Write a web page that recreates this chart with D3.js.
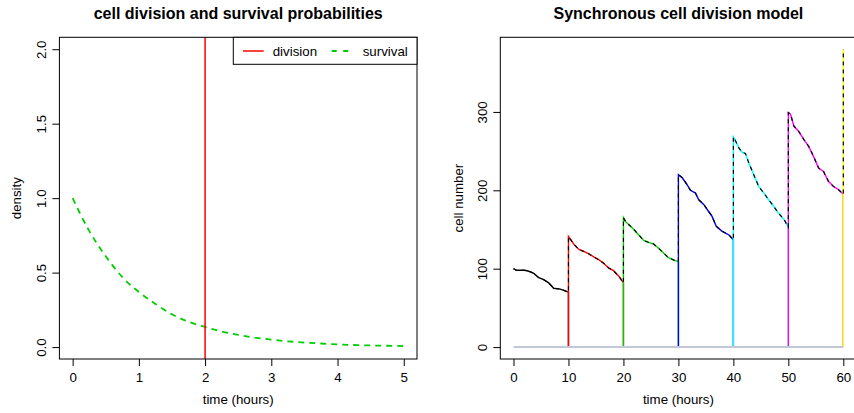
<!DOCTYPE html>
<html><head><meta charset="utf-8">
<script src="https://cdn.jsdelivr.net/npm/d3@7"></script>
<style>
html,body{margin:0;padding:0;background:#fff;}
svg text{font-family:"Liberation Sans",Arial,Helvetica,sans-serif;fill:#000;}
</style></head>
<body><svg id="c" width="854" height="413"></svg>
<script>
// ---------- data: left panel ----------
const leftTitle = "cell division and survival probabilities";
const leftXTicks = [0,1,2,3,4,5];
const leftYTicks = [0.0,0.5,1.0,1.5,2.0];
const leftYTickLabels = ["0.0","0.5","1.0","1.5","2.0"];
const divisionTime = 2;
const survivalTime = [0,0.25,0.5,0.75,1,1.25,1.5,1.75,2,2.25,2.5,2.75,3,3.25,3.5,3.75,4,4.25,4.5,4.75,5];
const survivalDensity = [1.00,0.78,0.61,0.47,0.37,0.29,0.22,0.17,0.135,0.105,0.082,0.064,0.050,0.039,0.030,0.024,0.018,0.014,0.011,0.009,0.007];
const legendLabels = ["division","survival"];

// ---------- data: right panel ----------
const rightTitle = "Synchronous cell division model";
const rightXTicks = [0,10,20,30,40,50,60];
const rightYTicks = [0,100,200,300];
const generationStart = [0,10,20,30,40,50,60];
const gen0 = [[0,100],[0.3,99],[0.5,98],[2,98],[2.6,97],[3.1,96],[3.7,94],[4.6,88.5],[5.5,86],[6.4,82],[7.3,75],[8.5,74],[9.3,72],[10,70]];
const gen1 = [[10,141],[10.4,137],[11,131],[11.9,124.5],[12.8,122],[13.7,119],[14.6,115],[15.5,111.5],[16.4,107],[17.3,101],[18.2,97.5],[19.2,90],[20,82]];
const gen2 = [[20,165],[20.4,160],[21,156],[21.9,150],[22.8,143],[23.7,136],[24.6,133.5],[25.5,131.5],[26.4,126],[27.3,120],[28.2,114],[29.2,111],[30,109]];
const gen3 = [[30,220],[30.7,216],[31.6,207],[32.2,200],[33.1,196.5],[33.7,188],[34.6,182],[35.5,173],[36.1,167],[36.9,154],[37.9,148],[39.2,143],[40,137]];
const gen4 = [[40,268],[40.4,263],[41,254],[41.6,248.5],[42.2,247],[42.8,235],[43.7,220],[44.6,205],[45.5,197],[46.4,188],[47.3,180],[48.2,171],[49.2,163],[50,153]];
const gen5 = [[50,299],[50.4,297],[51,282],[51.9,275],[52.8,265],[53.7,256],[54.6,243],[55.5,228.5],[56.4,224],[57.3,211.5],[58.2,205],[59.1,201],[60,195]];
const gen6 = [[60,380]];
const generations = [gen0,gen1,gen2,gen3,gen4,gen5,gen6];
const genColors = ["#000000","#FF0000","#00CD00","#0000FF","#00FFFF","#FF00FF","#FFFF00"];

// ---------- drawing ----------
const svg = d3.select("#c");
const FS = 13.3;

function panel(o){
  const g = svg.append("g");
  const x = d3.scaleLinear().domain(o.xd).range([o.left,o.right]);
  const y = d3.scaleLinear().domain(o.yd).range([o.bottom,o.top]);
  g.append("text").attr("x",(o.left+o.right)/2).attr("y",19).attr("text-anchor","middle")
    .style("font-weight","bold").style("font-size","16px").text(o.title);
  const xa = g.append("g").attr("transform",`translate(0,${o.bottom})`)
    .call(d3.axisBottom(x).tickValues(o.xt).tickSize(7).tickFormat(d3.format("d")));
  xa.select(".domain").remove();
  xa.selectAll("line").attr("stroke","#000");
  xa.selectAll("text").attr("y",22.7).attr("dy",null).style("font-size",FS+"px").attr("fill","#000");
  const ya = g.append("g").attr("transform",`translate(${o.left},0)`)
    .call(d3.axisLeft(y).tickValues(o.yt).tickSize(7).tickFormat((d,i)=>o.ytl[i]));
  ya.select(".domain").remove();
  ya.selectAll("line").attr("stroke","#000");
  ya.selectAll("text").attr("x",null).attr("dy",null).attr("text-anchor","middle")
    .attr("transform","translate(-13,0) rotate(-90)").style("font-size",FS+"px").attr("fill","#000");
  g.append("text").attr("x",(o.left+o.right)/2).attr("y",404).attr("text-anchor","middle")
    .style("font-size",FS+"px").text("time (hours)");
  g.append("text").attr("transform",`translate(${o.ylx},${(o.top+o.bottom)/2}) rotate(-90)`)
    .attr("text-anchor","middle").style("font-size",FS+"px").text(o.ylab);
  return {g,x,y};
}

// left panel
const L = panel({left:59.4,right:417,top:37.3,bottom:359,xd:[-0.2,5.2],yd:[-0.08,2.08],
  xt:leftXTicks,yt:leftYTicks,ytl:leftYTickLabels,title:leftTitle,ylab:"density",ylx:21});
const survData = survivalTime.map((t,i)=>[t,survivalDensity[i]]);
L.g.append("path").datum(survData)
  .attr("d",d3.line().x(d=>L.x(d[0])).y(d=>L.y(d[1])).curve(d3.curveMonotoneX))
  .attr("fill","none").attr("stroke","#00CD00").attr("stroke-width",1.8).attr("stroke-dasharray","6,5");
L.g.append("line").attr("x1",L.x(divisionTime)).attr("x2",L.x(divisionTime))
  .attr("y1",37.3).attr("y2",359).attr("stroke","#FF0000").attr("stroke-width",1.5);
L.g.append("rect").attr("x",59.4).attr("y",37.3).attr("width",417-59.4).attr("height",359-37.3)
  .attr("fill","none").attr("stroke","#000").attr("stroke-width",1);
const lg = L.g.append("g");
lg.append("rect").attr("x",233.3).attr("y",37.3).attr("width",417-233.3).attr("height",27)
  .attr("fill","#fff").attr("stroke","#000").attr("stroke-width",1);
lg.append("line").attr("x1",243).attr("x2",263.7).attr("y1",51).attr("y2",51)
  .attr("stroke","#FF0000").attr("stroke-width",1.5);
lg.append("text").attr("x",272.7).attr("y",55.6).style("font-size",FS+"px").text(legendLabels[0]);
lg.append("line").attr("x1",331.7).attr("x2",350.7).attr("y1",51).attr("y2",51)
  .attr("stroke","#00CD00").attr("stroke-width",1.8).attr("stroke-dasharray","5,6.5");
lg.append("text").attr("x",362.7).attr("y",55.6).style("font-size",FS+"px").text(legendLabels[1]);

// right panel
const R = panel({left:500.3,right:856.5,top:37.3,bottom:359,xd:[-2.4,62.4],yd:[-15.2,395.2],
  xt:rightXTicks,yt:rightYTicks,ytl:rightYTicks.map(String),title:rightTitle,ylab:"cell number",ylx:463});
const ln = d3.line().x(d=>R.x(d[0])).y(d=>R.y(d[1]));
generations.forEach((gd,i)=>{
  const s = generationStart[i];
  const e = gd[gd.length-1][0];
  const pts = (i===0 ? [] : [[s,0]]).concat(gd, [[e,0]]);
  R.g.append("path").datum(pts).attr("d",ln).attr("fill","none")
    .attr("stroke",genColors[i]).attr("stroke-width",1.4);
});
R.g.append("path").datum([[0,0],[60,0]]).attr("d",ln).attr("fill","none")
  .attr("stroke","#c3c8d8").attr("stroke-width",2);
const total = generations.flat();
R.g.append("path").datum(total).attr("d",ln).attr("fill","none")
  .attr("stroke","#000").attr("stroke-width",1.2).attr("stroke-dasharray","4,4");
R.g.append("rect").attr("x",500.3).attr("y",37.3).attr("width",856.5-500.3).attr("height",359-37.3)
  .attr("fill","none").attr("stroke","#000").attr("stroke-width",1);
</script></body></html>
